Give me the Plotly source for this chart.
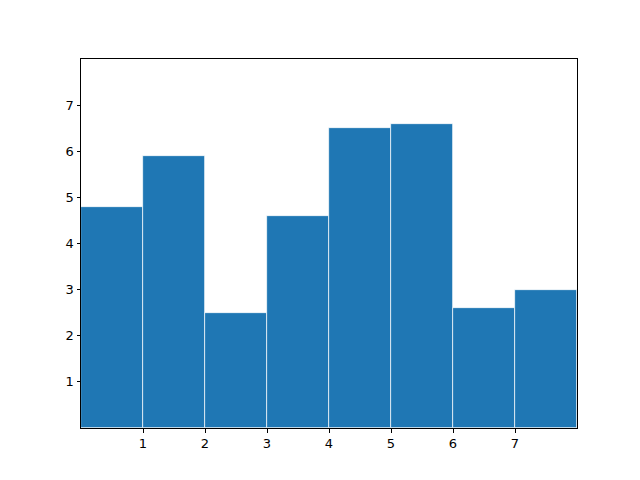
import plotly.graph_objects as go

x_pos = [0.5, 1.5, 2.5, 3.5, 4.5, 5.5, 6.5, 7.5]
heights = [4.8, 5.9, 2.5, 4.6, 6.5, 6.6, 2.6, 3.0]
x_ticks = [1, 2, 3, 4, 5, 6, 7]
y_ticks = [1, 2, 3, 4, 5, 6, 7]

fig = go.Figure(go.Bar(
    x=x_pos, y=heights, width=1,
    marker=dict(color="#1f77b4", line=dict(color="white", width=0.7)),
))

axis_common = dict(
    showgrid=False, zeroline=False, showline=True, linecolor="black", linewidth=1,
    mirror=True, ticks="outside", ticklen=3.5, tickwidth=0.8, tickcolor="black",
    tickfont=dict(family="DejaVu Sans", size=13, color="black"),
)

fig.update_layout(
    width=640, height=480,
    margin=dict(l=73, r=71, t=51, b=60),
    paper_bgcolor="white", plot_bgcolor="white",
    showlegend=False, bargap=0,
    xaxis=dict(range=[0, 8], tickvals=x_ticks, **axis_common),
    yaxis=dict(range=[0, 8], tickvals=y_ticks, **axis_common),
)

fig.write_html("out.html")
